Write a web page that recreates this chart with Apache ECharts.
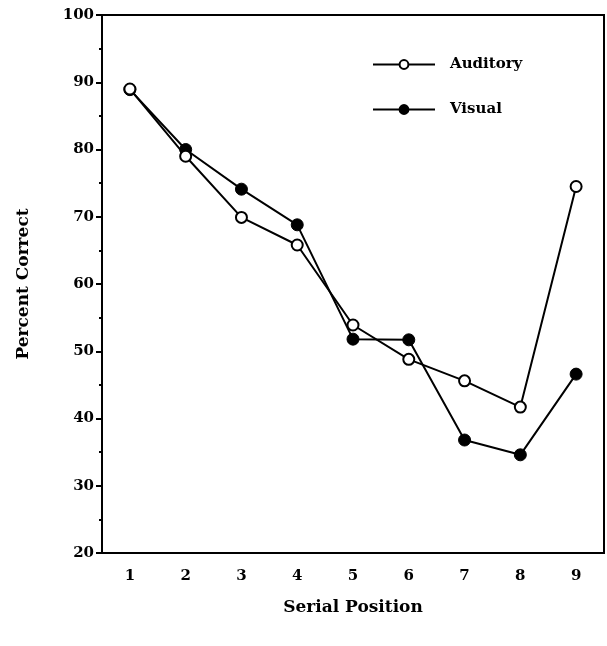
<!DOCTYPE html>
<html><head><meta charset="utf-8">
<script src="https://cdn.jsdelivr.net/npm/echarts@6/dist/echarts.min.js"></script>
<style>html,body{margin:0;padding:0;background:#fff}#c{width:607px;height:646px}</style>
</head><body><div id="c"></div>
<script>
var categories = ['1','2','3','4','5','6','7','8','9'];
var auditory = [89, 79, 69.9, 65.8, 53.9, 48.8, 45.6, 41.7, 74.5];
var visual = [88.9, 80, 74.1, 68.8, 51.8, 51.7, 36.8, 34.6, 46.6];
var yTicks = [20, 30, 40, 50, 60, 70, 80, 90, 100];

var font = 'Century Schoolbook, "DejaVu Serif", "Liberation Serif", serif';
var chart = echarts.init(document.getElementById('c'), null, {renderer:'canvas'});
chart.setOption({
  animation:false,
  backgroundColor:'#fff',
  grid:{left:102, right:3, top:15, bottom:93, show:true, borderColor:'#000', borderWidth:2, backgroundColor:'transparent'},
  legend:{
    orient:'vertical', left:372, top:57, padding:0, itemWidth:62, itemHeight:11, itemGap:30,
    textStyle:{fontFamily:font, fontWeight:'bold', fontSize:15, color:'#000', padding:[0,0,0,10]},
    data:['Auditory','Visual']
  },
  xAxis:{
    type:'category', data:categories, boundaryGap:true,
    name:'Serial Position', nameLocation:'middle', nameGap:46,
    nameTextStyle:{fontFamily:font, fontWeight:'bold', fontSize:17, color:'#000'},
    axisLine:{lineStyle:{color:'#000', width:2}},
    axisTick:{alignWithLabel:true, length:6, lineStyle:{color:'#000', width:2}},
    axisLabel:{fontFamily:font, fontWeight:'bold', fontSize:15, color:'#000', margin:16},
    splitLine:{show:false}
  },
  yAxis:{
    type:'value', min:20, max:100, interval:10,
    name:'Percent Correct', nameLocation:'middle', nameGap:70, nameRotate:90,
    nameTextStyle:{fontFamily:font, fontWeight:'bold', fontSize:17, color:'#000'},
    axisLine:{show:true, lineStyle:{color:'#000', width:2}},
    axisTick:{show:true, length:6, lineStyle:{color:'#000', width:2}},
    minorTick:{show:true, splitNumber:2, length:3, lineStyle:{color:'#000', width:2}},
    axisLabel:{fontFamily:font, fontWeight:'bold', fontSize:15, color:'#000', margin:8,
      formatter:function(v){return yTicks.indexOf(v)>=0 ? String(v) : '';}},
    splitLine:{show:false}
  },
  series:[
    {name:'Auditory', type:'line', data:auditory, symbol:'circle', symbolSize:11,
     lineStyle:{color:'#000', width:2},
     itemStyle:{color:'#fff', borderColor:'#000', borderWidth:2}, z:3},
    {name:'Visual', type:'line', data:visual, symbol:'circle', symbolSize:12,
     lineStyle:{color:'#000', width:2},
     itemStyle:{color:'#000', borderColor:'#000', borderWidth:1}, z:2}
  ]
});
</script></body></html>
